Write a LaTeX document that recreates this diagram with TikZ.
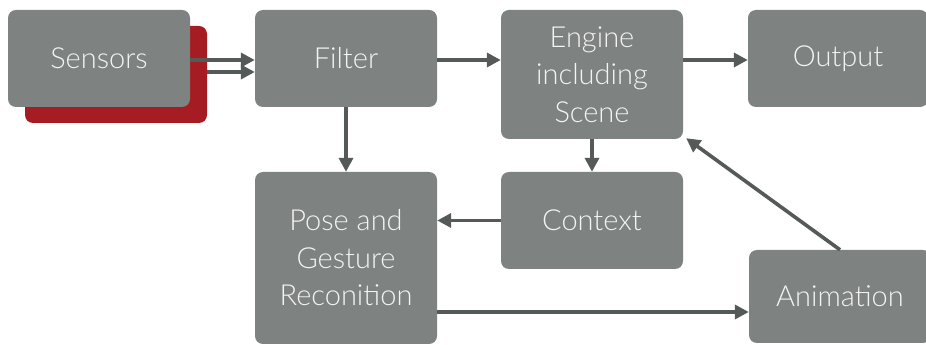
\documentclass[tikz,border=0pt]{standalone}
\usepackage{fontspec}
\setmainfont{Lato}[UprightFont={* Light}]
\usetikzlibrary{arrows.meta}
\definecolor{boxgray}{HTML}{7E8280}
\definecolor{boxred}{HTML}{A51C22}
\definecolor{arrowgray}{HTML}{555A58}
\definecolor{txt}{HTML}{F4F4F4}
\begin{document}
\begin{tikzpicture}[x=1pt,y=1pt,
  blk/.style={fill=boxgray, rounded corners=8pt, minimum width=182pt, minimum height=97pt,
    inner sep=0pt, text=txt, align=center, font=\fontsize{29}{37.5}\selectfont},
  redblk/.style={fill=boxred, rounded corners=8pt, minimum width=182pt, minimum height=97pt, inner sep=0pt},
  conn/.style={draw=arrowgray, line width=3.6pt, -{Triangle[length=14pt,width=14pt]}}]
\useasboundingbox (0,0) rectangle (926,345);
\fill[white] (0,0) rectangle (926,345);
\node[redblk] (red) at (116,270.5) {};
\node[blk] (sensors) at (99,286.5) {\raisebox{-2pt}{Sensors}};
\node[blk] (filter) at (346,286.5) {\raisebox{-2pt}{Filter}};
\node[blk, minimum height=129pt] (engine) at (592,270.5) {Engine\\including\\Scene};
\node[blk, minimum width=180pt] (output) at (838,286.5) {\raisebox{-2pt}{Output}};
\node[blk, minimum height=172pt] (pose) at (346,87) {Pose and\\Gesture\\Reconition};
\node[blk] (context) at (592,124.5) {Context};
\node[blk, minimum width=182pt, minimum height=93pt] (anim) at (840,48.5) {Animation};
\draw[conn] ([yshift=-1.5pt]sensors.east) -- ([yshift=-1.5pt]sensors.east -| filter.west);
\draw[conn] ([yshift=2.5pt]red.east) -- ([yshift=2.5pt]red.east -| filter.west);
\draw[conn] ([yshift=-1.5pt]filter.east) -- ([yshift=-1.5pt]filter.east -| engine.west);
\draw[conn] ([yshift=-1.5pt]output.west -| engine.east) -- ([yshift=-1.5pt]output.west);
\draw[conn] (filter.south) -- (pose.north);
\draw[conn] (engine.south) -- (context.north);
\draw[conn] (context.west) -- (context.west -| pose.east);
\draw[conn] ([yshift=-15.5pt]anim.west -| pose.east) -- ([yshift=-15.5pt]anim.west);
\draw[conn] (anim.north) -- ([shift={(3pt,1pt)}]engine.south east);
\end{tikzpicture}
\end{document}
